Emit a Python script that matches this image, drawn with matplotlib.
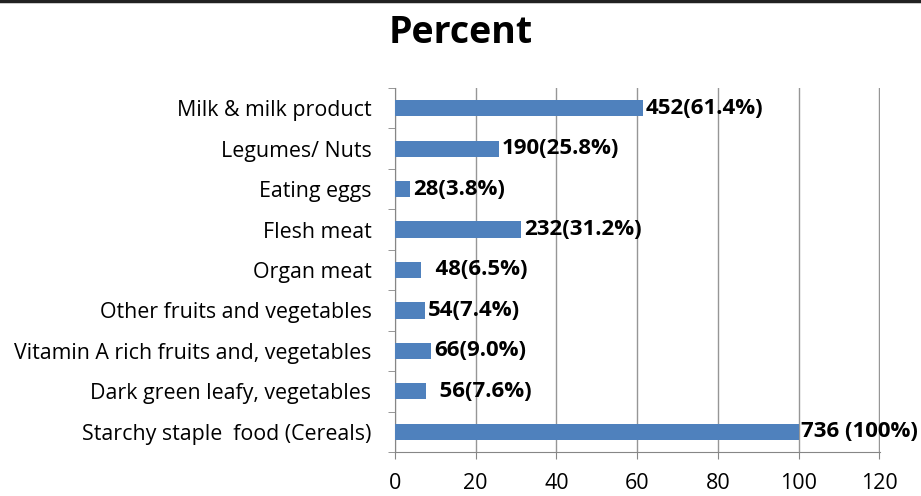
import numpy as np
import matplotlib.pyplot as plt
from matplotlib.lines import Line2D

# data (top to bottom as in the chart)
categories = ['Milk & milk product', 'Legumes/ Nuts', 'Eating eggs', 'Flesh meat',
              'Organ meat', 'Other fruits and vegetables',
              'Vitamin A rich fruits and, vegetables', 'Dark green leafy, vegetables',
              'Starchy staple  food (Cereals)']
percent = [61.4, 25.8, 3.8, 31.2, 6.5, 7.4, 9.0, 7.6, 100]
labels = ['452(61.4%)', '190(25.8%)', '28(3.8%)', '232(31.2%)', '  48(6.5%)',
          '54(7.4%)', '66(9.0%)', '  56(7.6%)', '736 (100%)']
xticks = [0, 20, 40, 60, 80, 100, 120]

plt.rcParams['font.family'] = ['Open Sans', 'DejaVu Sans']

fig = plt.figure(figsize=(9.21, 4.96), dpi=100)
ax = fig.add_axes([0.4289, 0.0887, 0.9555 - 0.4289, 0.8226 - 0.0887])

y = np.arange(len(categories))[::-1]
ax.barh(y, percent, height=0.4, color='#4F81BD', zorder=3)

for yi, p, lab in zip(y, percent, labels):
    ax.annotate(lab, (p, yi), xytext=(2, 0), textcoords='offset points',
                va='center', ha='left', fontsize=16, fontweight='bold', zorder=4)

ax.set_xlim(0, 120.2)
ax.set_ylim(-0.5, len(categories) - 0.5)
ax.set_xticks(xticks)
ax.set_xticklabels([str(t) for t in xticks], fontsize=15.5)
ax.set_yticks(y)
ax.set_yticklabels(categories, fontsize=15.4)
ax.set_yticks(np.arange(-0.5, len(categories), 1), minor=True)
ax.tick_params(axis='y', which='major', length=0, pad=17)
ax.tick_params(axis='y', which='minor', length=5, color='#868686', direction='out')
ax.tick_params(axis='x', length=5, color='#868686', direction='out', pad=10)

ax.grid(axis='x', color='#969696', linewidth=1, zorder=0)
for s in ['top', 'right']:
    ax.spines[s].set_visible(False)
for s in ['left', 'bottom']:
    ax.spines[s].set_color('#868686')

fig.text(0.5, 0.933, 'Percent', ha='center', va='center', fontsize=27, fontweight='bold')
fig.add_artist(Line2D([0, 1], [0.998, 0.998], color='#222222', linewidth=2.5,
                      transform=fig.transFigure))

plt.savefig('out.png', dpi=100)
